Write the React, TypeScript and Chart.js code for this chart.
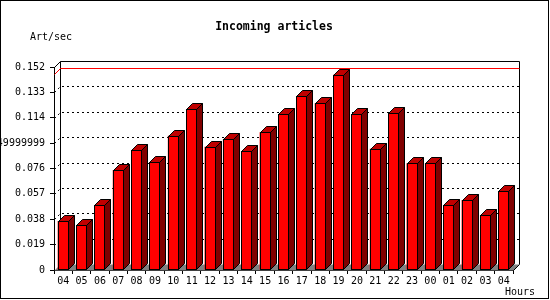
import { useEffect, useRef } from 'react';
import { Chart, registerables } from 'chart.js';

Chart.register(...registerables);

const hours = ['04', '05', '06', '07', '08', '09', '10', '11', '12', '13', '14', '15', '16', '17', '18', '19', '20', '21', '22', '23', '00', '01', '02', '03', '04'];
const articlesPerSec = [0.0367, 0.0337, 0.0487, 0.0749, 0.0899, 0.0806, 0.1005, 0.1203, 0.0923, 0.0979, 0.0889, 0.1031, 0.1166, 0.1301, 0.1248, 0.1462, 0.1166, 0.0908, 0.1176, 0.0799, 0.0799, 0.0487, 0.0524, 0.0412, 0.0592];
const yTicks = [0, 0.019, 0.038, 0.057, 0.076, 0.095, 0.114, 0.133, 0.152];
const yTickLabels = ['0', '0.019', '0.038', '0.057', '0.076', '0.0949999999', '0.114', '0.133', '0.152'];
const maxValue = 0.1466;
const titleText = 'Incoming articles';
const yAxisTitle = 'Art/sec';
const xAxisTitle = 'Hours';

const DEPTH = 6;
const MONO = '"DejaVu Sans Mono", "Liberation Mono", monospace';

const threeD = {
  id: 'threeD',
  beforeDraw(chart: any) {
    const ctx = chart.ctx;
    ctx.save();
    ctx.fillStyle = '#ffffff';
    ctx.fillRect(0, 0, chart.width, chart.height);
    ctx.strokeStyle = '#000';
    ctx.lineWidth = 1;
    ctx.strokeRect(0.5, 0.5, 548, 298);
    ctx.fillStyle = '#000';
    ctx.textBaseline = 'middle';
    ctx.font = `bold 11.5px ${MONO}`;
    ctx.textAlign = 'center';
    ctx.fillText(titleText, 274, 27);
    ctx.font = `10px ${MONO}`;
    ctx.textAlign = 'left';
    ctx.fillText(yAxisTitle, 30, 37);
    ctx.fillText(xAxisTitle, 505, 292);
    ctx.restore();
  },
  beforeDatasetsDraw(chart: any) {
    const ctx = chart.ctx;
    const { left, right, top, bottom } = chart.chartArea;
    const ys = chart.scales.y;
    const L = Math.round(left) + 0.5;
    const R = Math.round(right) + 0.5;
    const T = Math.round(top) + 0.5;
    const B = Math.round(bottom) + 0.5;
    ctx.save();
    // floor
    ctx.fillStyle = '#808080';
    ctx.beginPath();
    ctx.moveTo(L, B);
    ctx.lineTo(L + DEPTH, B - DEPTH);
    ctx.lineTo(R + DEPTH, B - DEPTH);
    ctx.lineTo(R, B);
    ctx.closePath();
    ctx.fill();
    // dotted gridlines on back wall
    ctx.strokeStyle = '#000';
    ctx.lineWidth = 1;
    ctx.setLineDash([2, 3]);
    yTicks.forEach((v, i) => {
      if (i === 0 || i === yTicks.length - 1) return;
      const py = Math.round(ys.getPixelForValue(v)) + 0.5;
      ctx.beginPath();
      ctx.moveTo(L, py);
      ctx.lineTo(L + DEPTH, py - DEPTH);
      ctx.lineTo(R + DEPTH, py - DEPTH);
      ctx.stroke();
    });
    ctx.setLineDash([]);
    // back wall frame
    ctx.beginPath();
    ctx.moveTo(L, T);
    ctx.lineTo(L + DEPTH, T - DEPTH);
    ctx.lineTo(R + DEPTH, T - DEPTH);
    ctx.lineTo(R + DEPTH, B - DEPTH);
    ctx.lineTo(R, B);
    ctx.moveTo(L + DEPTH, T - DEPTH);
    ctx.lineTo(L + DEPTH, B - DEPTH);
    ctx.stroke();
    // max line
    const my = Math.round(ys.getPixelForValue(maxValue)) + 0.5;
    ctx.strokeStyle = '#ff0000';
    ctx.beginPath();
    ctx.moveTo(L, my);
    ctx.lineTo(L + DEPTH, my - DEPTH);
    ctx.lineTo(R + DEPTH, my - DEPTH);
    ctx.stroke();
    ctx.restore();
  },
  afterDatasetsDraw(chart: any) {
    const ctx = chart.ctx;
    const meta = chart.getDatasetMeta(0);
    ctx.save();
    ctx.lineWidth = 1;
    ctx.strokeStyle = '#000';
    meta.data.forEach((el: any) => {
      const { x, y, base, width } = el.getProps(['x', 'y', 'base', 'width'], true);
      const l = Math.round(x - width / 2) + 0.5;
      const r = Math.round(x + width / 2) - 0.5;
      const t = Math.round(y) + 0.5;
      const b = Math.round(base) - 0.5;
      // top face
      ctx.fillStyle = '#c00000';
      ctx.beginPath();
      ctx.moveTo(l, t);
      ctx.lineTo(l + DEPTH, t - DEPTH);
      ctx.lineTo(r + DEPTH, t - DEPTH);
      ctx.lineTo(r, t);
      ctx.closePath();
      ctx.fill();
      ctx.stroke();
      // side face
      ctx.fillStyle = '#800000';
      ctx.beginPath();
      ctx.moveTo(r, t);
      ctx.lineTo(r + DEPTH, t - DEPTH);
      ctx.lineTo(r + DEPTH, b - DEPTH);
      ctx.lineTo(r, b);
      ctx.closePath();
      ctx.fill();
      ctx.stroke();
      // crisp front outline
      ctx.strokeRect(l, t, r - l, b - t);
    });
    ctx.restore();
  },
};

export default function App() {
  const ref = useRef<HTMLCanvasElement | null>(null);
  useEffect(() => {
    document.body.style.margin = '0';
    const canvas = ref.current;
    if (!canvas) return;
    const chart = new Chart(canvas, {
      type: 'bar',
      data: {
        labels: hours,
        datasets: [
          {
            data: articlesPerSec,
            backgroundColor: '#ff0000',
            borderColor: '#000000',
            borderWidth: 0,
            barPercentage: 0.6,
            categoryPercentage: 1.0,
          },
        ],
      },
      options: {
        animation: false,
        responsive: false,
        devicePixelRatio: 1,
        events: [],
        layout: { padding: { top: 67, right: 37, left: 0, bottom: 0 } },
        plugins: { legend: { display: false }, title: { display: false }, tooltip: { enabled: false } },
        scales: {
          x: {
            offset: true,
            grid: { offset: true, drawOnChartArea: false, drawTicks: true, tickLength: 4, color: '#000' },
            border: { display: true, color: '#000', width: 1 },
            ticks: { color: '#000', font: { family: MONO, size: 10 }, padding: 1, maxRotation: 0, autoSkip: false },
            afterFit(scale: any) {
              scale.height = 30;
            },
          },
          y: {
            min: 0,
            max: 0.152,
            grid: { drawOnChartArea: false, drawTicks: true, tickLength: 4, color: '#000' },
            border: { display: true, color: '#000', width: 1 },
            ticks: {
              color: '#000',
              font: { family: MONO, size: 10 },
              padding: 5,
              callback: (_v: any, i: number) => yTickLabels[i],
            },
            afterBuildTicks(scale: any) {
              scale.ticks = yTicks.map((v) => ({ value: v }));
            },
            afterFit(scale: any) {
              scale.width = 54;
            },
          },
        },
      },
      plugins: [threeD],
    });
    return () => chart.destroy();
  }, []);
  return <canvas ref={ref} width={550} height={300} style={{ display: 'block' }} />;
}
